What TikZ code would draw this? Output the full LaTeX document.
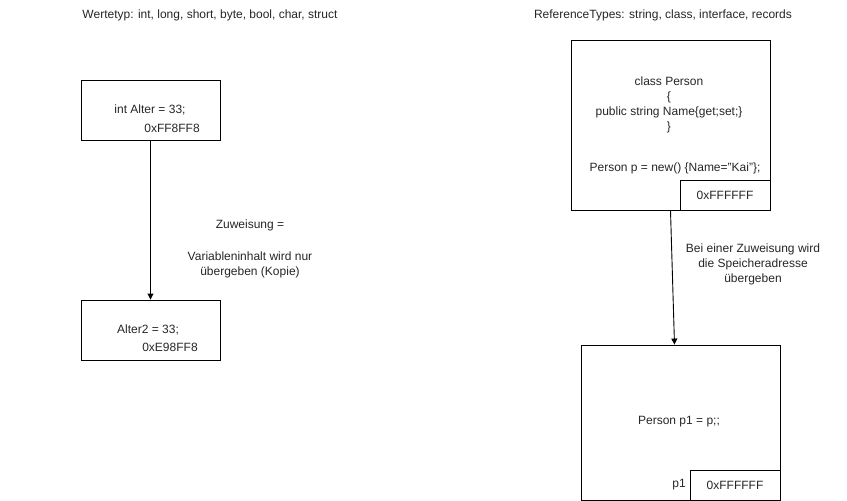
\documentclass[tikz,border=0pt]{standalone}
\usepackage{fontspec}
\setmainfont{Liberation Sans}
\usetikzlibrary{arrows.meta}
\begin{document}
\begin{tikzpicture}[x=1pt,y=-1pt,
  every node/.style={font=\fontsize{12}{15}\selectfont, inner sep=0pt, text=black!85},
  box/.style={draw=black, line width=0.9pt, minimum width=#1, inner sep=0pt},
  txt/.style={align=center},
  link/.style={draw=black, line width=0.9pt, -{Triangle[length=6pt,width=6pt]}}]
\useasboundingbox (0,0) rectangle (847,501);

% Werttypen
\node[txt] (t1) at (210,15) {Wertetyp: int, long, short, byte, bool, char, struct};
\node[box=139pt, minimum height=60pt] (b1) at (150.5,110) {};
\node (b1a) at (150,110) {int Alter = 33;};
\node (b1b) at (172,128) {0xFF8FF8};
\node[box=139pt, minimum height=60pt] (b2) at (150.5,330) {};
\node (b2a) at (148,330) {Alter2 = 33;};
\node (b2b) at (170,347) {0xE98FF8};
\draw[link] (b1.south) -- (b2.north);
\node[txt] (l1) at (250,225) {Zuweisung =};
\node[txt] (l2) at (250,265) {Variableninhalt wird nur\\übergeben (Kopie)};

% Referenztypen
\node[txt] (t2) at (663,15) {ReferenceTypes: string, class, interface, records};
\node[box=199pt, minimum height=170pt] (b3) at (670.5,125) {};
\node[txt] (b3a) at (669,104.5) {class Person\\\{\\public string Name\{get;set;\}\\\}};
\node (b3b) at (675,168) {Person p = new() \{Name="Kai"\};};
\node[box=90pt, minimum height=30pt] (a3) at (725,195) {};
\node (a3t) at (725,195) {0xFFFFFF};
\node[box=199pt, minimum height=155pt] (b4) at (680.5,422.5) {};
\node (b4a) at (679,422) {Person p1 = p;;};
\node[box=90pt, minimum height=30pt] (a4) at (735,485) {};
\node (a4t) at (735,485) {0xFFFFFF};
\node (p1) at (679,485) {p1};
\coordinate (e4) at ([xshift=-6pt]b4.north);
\draw[link] (b3.south) -- (e4);
\node[txt] (l3) at (753,264) {Bei einer Zuweisung wird\\die Speicheradresse\\übergeben};
\end{tikzpicture}
\end{document}
